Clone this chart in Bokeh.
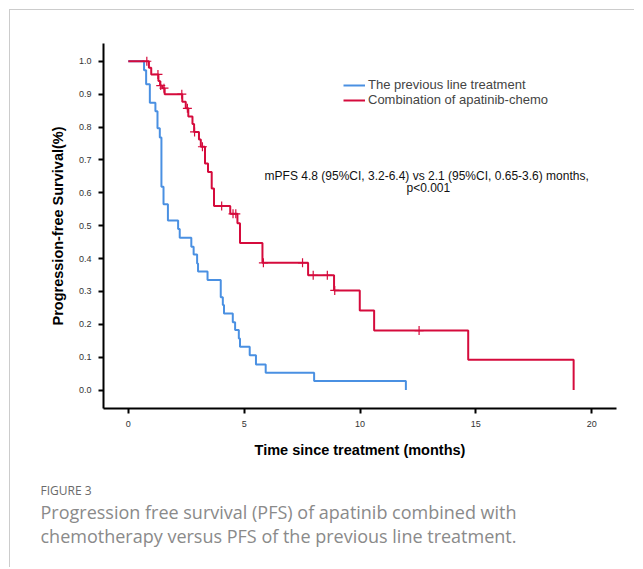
from bokeh.plotting import figure
from bokeh.models import (FixedTicker, PrintfTickFormatter, Label, Legend, LegendItem,
                          Range1d, Title)
from bokeh.embed import file_html
from bokeh.resources import INLINE

# ---- data ----
blue_t = [0, 0.68, 0.77, 0.93, 1.17, 1.26, 1.36, 1.43, 1.52, 1.71, 2.15, 2.22, 2.72, 2.82,
          2.97, 3.01, 3.42, 3.99, 4.08, 4.13, 4.51, 4.61, 4.77, 4.82, 5.24, 5.51, 5.93, 8.02, 11.98]
blue_s = [1.0, 0.973, 0.930, 0.874, 0.848, 0.796, 0.768, 0.618, 0.565, 0.516, 0.490, 0.463, 0.436,
          0.412, 0.385, 0.361, 0.335, 0.282, 0.259, 0.233, 0.206, 0.183, 0.157, 0.132, 0.106,
          0.078, 0.053, 0.028, 0.0]

red_t = [0, 0.89, 0.99, 1.30, 1.37, 1.47, 1.57, 2.33, 2.48, 2.59, 2.77, 2.84, 3.05, 3.13, 3.31,
         3.44, 3.60, 3.70, 4.40, 4.71, 4.82, 5.79, 7.76, 8.88, 9.99, 10.61, 14.67, 19.22]
red_s = [1.0, 0.98, 0.96, 0.94, 0.926, 0.918, 0.900, 0.877, 0.857, 0.832, 0.809, 0.785, 0.762,
         0.740, 0.689, 0.663, 0.613, 0.560, 0.536, 0.507, 0.447, 0.387, 0.349, 0.303, 0.242,
         0.181, 0.092, 0.0]

red_censor_t = [0.80, 1.28, 1.40, 1.54, 2.31, 2.55, 2.86, 3.20, 4.03, 4.52, 4.64, 5.83, 7.52,
                7.98, 8.59, 8.91, 12.55]

x_ticks = [0, 5, 10, 15, 20]
y_ticks = [0.0, 0.1, 0.2, 0.3, 0.4, 0.5, 0.6, 0.7, 0.8, 0.9, 1.0]

series_names = ["The previous line treatment", "Combination of apatinib-chemo"]
annot_line1 = "mPFS  4.8 (95%CI, 3.2-6.4) vs 2.1 (95%CI, 0.65-3.6) months,"
annot_line2 = "p<0.001"
caption_head = "FIGURE 3"
caption_lines = ["Progression free survival (PFS) of apatinib combined with",
                 "chemotherapy versus PFS of the previous line treatment."]


def level_at(ts, ss, t):
    v = ss[0]
    for ti, si in zip(ts, ss):
        if ti <= t:
            v = si
    return v


red_censor_s = [level_at(red_t, red_s, t) for t in red_censor_t]

BLUE = "#4a90e2"
RED = "#d50b3c"
FONT = "Liberation Sans"

p = figure(width=625, height=558, x_range=Range1d(-1.07, 21.07), y_range=Range1d(-0.056, 1.054),
           output_backend="svg", toolbar_location=None,
           min_border_left=93, min_border_right=19, min_border_top=33, min_border_bottom=160)
p.margin = (9, 0, 0, 9)
p.styles = {"border-left": "1px solid #cccccc", "border-top": "1px solid #cccccc"}
p.xgrid.visible = False
p.ygrid.visible = False
p.outline_line_color = None
p.background_fill_color = "white"
p.border_fill_color = "white"

blue_r = p.step(blue_t, blue_s, mode="after", line_color=BLUE, line_width=2)
red_r = p.step(red_t, red_s, mode="after", line_color=RED, line_width=2)
p.scatter(red_censor_t, red_censor_s, marker="cross", size=9, line_color=RED, line_width=1.2)

for ax in (p.xaxis[0], p.yaxis[0]):
    ax.axis_line_width = 2
    ax.axis_line_color = "black"
    ax.major_tick_line_width = 2
    ax.major_tick_line_color = "black"
    ax.major_tick_out = 5
    ax.major_tick_in = 0
    ax.minor_tick_line_color = None
    ax.major_label_text_font = FONT
    ax.major_label_text_font_size = "9px"
    ax.major_label_text_color = "#333333"
    ax.major_label_standoff = 7
    ax.axis_label_text_font = FONT
    ax.axis_label_text_font_size = "14.5px"
    ax.axis_label_text_font_style = "bold"
    ax.axis_label_text_color = "black"

p.xaxis[0].ticker = FixedTicker(ticks=x_ticks)
p.yaxis[0].ticker = FixedTicker(ticks=y_ticks)
p.yaxis[0].formatter = PrintfTickFormatter(format="%.1f")
p.xaxis[0].axis_label = "Time since treatment (months)"
p.yaxis[0].axis_label = "Progression-free Survival(%)"
p.xaxis[0].axis_label_standoff = 12
p.yaxis[0].axis_label_standoff = 10

legend = Legend(items=[LegendItem(label=series_names[0], renderers=[blue_r]),
                       LegendItem(label=series_names[1], renderers=[red_r])],
                location=(240, 301), background_fill_alpha=0, border_line_alpha=0,
                padding=0, margin=0, spacing=0, label_text_font=FONT,
                label_text_font_size="13px", label_height=14, glyph_height=14,
                glyph_width=22, label_standoff=3)
p.add_layout(legend)

p.add_layout(Label(x=12.95, y=0.650, text=annot_line1, text_align="center",
                   text_baseline="middle", text_font=FONT, text_font_size="12px",
                   text_color="#111111"))
p.add_layout(Label(x=12.95, y=0.615, text=annot_line2, text_align="center",
                   text_baseline="middle", text_font=FONT, text_font_size="12px",
                   text_color="#111111"))

# caption below the chart (a thin spacer panel, then the heading and the caption text)
p.add_layout(Title(text=" ", standoff=16, text_font_size="1px"), "below")
p.add_layout(Title(text=caption_head, align="left", offset=-63, standoff=0,
                   text_font="Open Sans", text_font_size="12px", text_font_style="normal",
                   text_color="#6a6a6a"), "below")
p.add_layout(Title(text="\n".join(caption_lines), align="left", offset=-63, standoff=0,
                   text_font="Open Sans", text_font_size="18px", text_line_height=1.01,
                   text_font_style="normal", text_color="#8a8a8a"), "below")

open("out.html", "w").write(file_html(p, INLINE))
